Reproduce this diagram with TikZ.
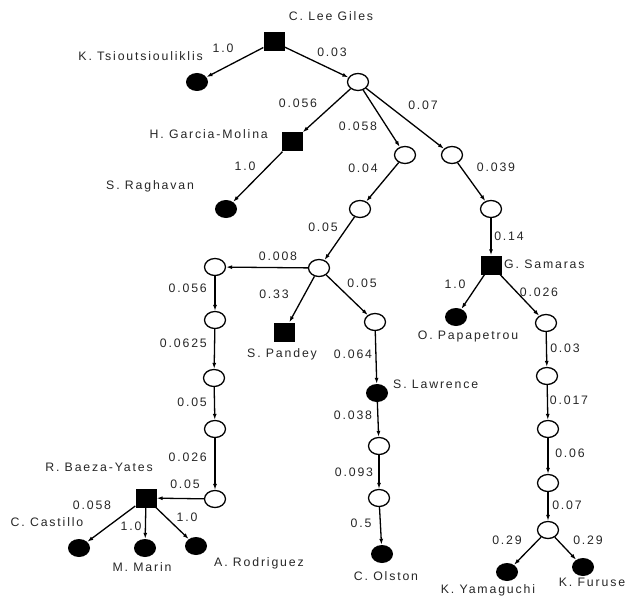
\documentclass[tikz,border=0pt]{standalone}
\usepackage{fontspec}
\setmainfont{Liberation Sans}[LetterSpace=15]
\usetikzlibrary{shapes.geometric,arrows.meta}
\begin{document}
\begin{tikzpicture}[x=1pt,y=-1pt,
  open/.style={ellipse,draw,line width=1.3pt,fill=white,minimum width=21pt,minimum height=17pt,inner sep=0pt},
  leaf/.style={ellipse,fill=black,minimum width=22pt,minimum height=18pt,inner sep=0pt},
  auth/.style={rectangle,fill=black,minimum width=21pt,minimum height=19pt,inner sep=0pt},
  lbl/.style={inner sep=0pt,font=\fontsize{12.3}{14}\selectfont,text=black!85},
  edge/.style={-{Latex[length=6pt,width=4pt]},line width=1.3pt}]
\useasboundingbox (0,0) rectangle (634,596);
% nodes
\node[auth] (giles) at (274,42) {};
\node[leaf] (tsi) at (197,82) {};
\node[open] (n1) at (358,82) {};
\node[auth] (garcia) at (292,142) {};
\node[open] (n2) at (405,155) {};
\node[open] (n3) at (452,155) {};
\node[leaf] (rag) at (226,209) {};
\node[open] (n4) at (360,209) {};
\node[open] (n5) at (491,209) {};
\node[open] (n6) at (319,268) {};
\node[auth] (sam) at (491,265) {};
\node[open] (n7) at (215,267) {};
\node[open] (n8) at (215,320) {};
\node[auth] (pandey) at (284,332) {};
\node[open] (n9) at (375,322) {};
\node[leaf] (papa) at (456,317) {};
\node[open] (n10) at (546,323) {};
\node[open] (n11) at (214,378) {};
\node[leaf] (law) at (377,393) {};
\node[open] (n12) at (547,376) {};
\node[open] (n13) at (215,429) {};
\node[open] (n14) at (379,446) {};
\node[open] (n15) at (548,429) {};
\node[open] (n16) at (215,499) {};
\node[auth] (baeza) at (146,498) {};
\node[leaf] (cas) at (79,548) {};
\node[leaf] (marin) at (145,548) {};
\node[leaf] (rod) at (196,546) {};
\node[open] (n18) at (379,498) {};
\node[leaf] (olston) at (382,554) {};
\node[open] (n19) at (548,483) {};
\node[open] (n20) at (548,530) {};
\node[leaf] (yam) at (507,572) {};
\node[leaf] (fur) at (583,567) {};
% edges
\draw[edge] (giles) -- (tsi);
\draw[edge] (giles) -- (n1);
\draw[edge] (n1) -- (garcia);
\draw[edge] (n1) -- (n2);
\draw[edge] (n1) -- (n3);
\draw[edge] (garcia) -- (rag);
\draw[edge] (n2) -- (n4);
\draw[edge] (n3) -- (n5);
\draw[edge] (n4) -- (n6);
\draw[edge] (n5) -- (sam);
\draw[edge] (n6) -- (n7);
\draw[edge] (n6) -- (pandey);
\draw[edge] (n6) -- (n9);
\draw[edge] (n7) -- (n8);
\draw[edge] (n8) -- (n11);
\draw[edge] (n11) -- (n13);
\draw[edge] (n13) -- (n16);
\draw[edge] (n16) -- (baeza);
\draw[edge] (baeza) -- (cas);
\draw[edge] (baeza) -- (marin);
\draw[edge] (baeza) -- (rod);
\draw[edge] (n9) -- (law);
\draw[edge] (law) -- (n14);
\draw[edge] (n14) -- (n18);
\draw[edge] (n18) -- (olston);
\draw[edge] (sam) -- (papa);
\draw[edge] (sam) -- (n10);
\draw[edge] (n10) -- (n12);
\draw[edge] (n12) -- (n15);
\draw[edge] (n15) -- (n19);
\draw[edge] (n19) -- (n20);
\draw[edge] (n20) -- (yam);
\draw[edge] (n20) -- (fur);
% names
\node[lbl] (tgiles) at (331,16) {C. Lee Giles};
\node[lbl,anchor=east] (ttsi) at (203,56) {K. Tsioutsiouliklis};
\node[lbl,anchor=east] (tgarcia) at (268,134) {H. Garcia-Molina};
\node[lbl,anchor=west] (trag) at (106,186) {S. Raghavan};
\node[lbl,anchor=west] (tsam) at (504,264) {G. Samaras};
\node[lbl] (tpapa) at (468,336) {O. Papapetrou};
\node[lbl,anchor=west] (tpandey) at (247,354) {S. Pandey};
\node[lbl,anchor=west] (tlaw) at (393,384) {S. Lawrence};
\node[lbl] (tbaeza) at (99,467) {R. Baeza-Yates};
\node[lbl] (tcas) at (47,522) {C. Castillo};
\node[lbl] (tmarin) at (142,567) {M. Marin};
\node[lbl] (trod) at (259,563) {A. Rodriguez};
\node[lbl] (tolston) at (386,576) {C. Olston};
\node[lbl] (tyam) at (488,590) {K. Yamaguchi};
\node[lbl] (tfur) at (592,582) {K. Furuse};
% weights
\node[lbl] (w1) at (223,48) {1.0};
\node[lbl] (w2) at (332,52) {0.03};
\node[lbl] (w3) at (298,103) {0.056};
\node[lbl] (w4) at (423,105) {0.07};
\node[lbl] (w5) at (358,126) {0.058};
\node[lbl] (w6) at (245,166) {1.0};
\node[lbl] (w7) at (363,168) {0.04};
\node[lbl] (w8) at (496,167) {0.039};
\node[lbl] (w9) at (323,227) {0.05};
\node[lbl] (w10) at (509,236) {0.14};
\node[lbl] (w11) at (278,256) {0.008};
\node[lbl,anchor=east] (w12) at (207,288) {0.056};
\node[lbl] (w13) at (274,294) {0.33};
\node[lbl] (w14) at (362,283) {0.05};
\node[lbl] (w15) at (455,284) {1.0};
\node[lbl] (w16) at (539,292) {0.026};
\node[lbl] (w17) at (353,354) {0.064};
\node[lbl,anchor=east] (w18) at (207,343) {0.0625};
\node[lbl] (w19) at (565,348) {0.03};
\node[lbl] (w20) at (569,400) {0.017};
\node[lbl,anchor=east] (w21) at (207,402) {0.05};
\node[lbl] (w22) at (353,415) {0.038};
\node[lbl] (w23) at (570,453) {0.06};
\node[lbl,anchor=east] (w24) at (207,457) {0.026};
\node[lbl] (w25) at (354,472) {0.093};
\node[lbl] (w26) at (185,484) {0.05};
\node[lbl] (w27) at (92,505) {0.058};
\node[lbl] (w28) at (567,505) {0.07};
\node[lbl] (w29) at (507,540) {0.29};
\node[lbl] (w30) at (588,540) {0.29};
\node[lbl] (w31) at (131,526) {1.0};
\node[lbl] (w32) at (187,517) {1.0};
\node[lbl] (w33) at (361,523) {0.5};
\end{tikzpicture}
\end{document}
